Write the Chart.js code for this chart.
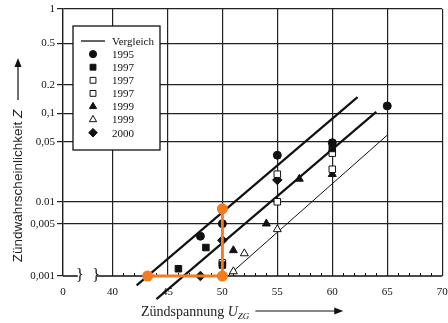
<!DOCTYPE html>
<html>
<head>
<meta charset="utf-8">
<script src="https://cdn.jsdelivr.net/npm/chart.js@4/dist/chart.umd.min.js"></script>
<style>
  html, body { margin: 0; padding: 0; background: #fff; }
</style>
</head>
<body>
<canvas id="grafico" width="448" height="323"></canvas>
<script>
// Zündwahrscheinlichkeit Z über der Zündspannung U_ZG, Messreihen 1995 - 2000

// Teilung der Z-Achse (Wahrscheinlichkeitspapier, nicht rein logarithmisch)
const zTicks = [0.001, 0.005, 0.01, 0.05, 0.1, 0.2, 0.5, 1];
const zTickLabels = ['0,001', '0,005', '0.01', '0,05', '0,1', '0.2', '0.5', '1'];
const zTickPos = [0, 0.196, 0.278, 0.502, 0.609, 0.715, 0.871, 1];

// U-Achse, unterbrochen zwischen 0 und 40
const uTicks = [40, 45, 50, 55, 60, 65, 70];
const uBreak = 4.5;

// Messpunkte
const u1995 = [48, 50, 55, 60, 65];
const z1995 = [0.0034, 0.005, 0.035, 0.049, 0.12];

const u1997a = [46, 48.5, 50, 60];
const z1997a = [0.00125, 0.0024, 0.0014, 0.042];

const u1997b = [50, 55, 60];
const z1997b = [0.0015, 0.021, 0.037];

const u1997c = [55, 60];
const z1997c = [0.01, 0.024];

const u1999a = [51, 54, 57, 60];
const z1999a = [0.0022, 0.005, 0.0185, 0.021];

const u1999b = [51, 52, 55];
const z1999b = [0.00115, 0.002, 0.0042];

const u2000 = [48, 50, 55];
const z2000 = [0.001, 0.003, 0.018];

// Vergleichsgeraden (Anfang, Ende)
const uVergleich1 = [42.2, 62.3];
const zVergleich1 = [0.00075, 0.149];
const uVergleich2 = [44, 64];
const zVergleich2 = [0.00049, 0.104];
const uVergleich3 = [50.5, 65];
const zVergleich3 = [0.001, 0.059];

// Ablesebeispiel (orange)
const uAblesung = [43.2, 50, 50];
const zAblesung = [0.001, 0.001, 0.008];

const schwarz = '#111';
const orange = '#f47b20';
const serif = 'Liberation Serif, Times New Roman, serif';
const sans = 'Liberation Sans, Arial, sans-serif';

// Z -> Lage auf der Achse (stueckweise logarithmisch zwischen den Teilstrichen)
function zToAxis(z) {
    const lz = Math.log10(z);
    let i = 0;
    while (i < zTicks.length - 2 && z > zTicks[i + 1]) i++;
    const l0 = Math.log10(zTicks[i]);
    const l1 = Math.log10(zTicks[i + 1]);
    return zTickPos[i] + (lz - l0) / (l1 - l0) * (zTickPos[i + 1] - zTickPos[i]);
}

function punkte(us, zs) {
    return us.map((u, i) => ({ x: u, y: zToAxis(zs[i]) }));
}

function messreihe(label, us, zs, stil, gefuellt, radius) {
    return {
        label: label,
        data: punkte(us, zs),
        showLine: false,
        pointStyle: stil,
        pointRadius: radius,
        pointBackgroundColor: gefuellt ? schwarz : '#fff',
        pointBorderColor: schwarz,
        pointBorderWidth: 1,
        inLegend: true,
        order: 2,
        clip: false
    };
}

function gerade(us, zs, breite, legende) {
    return {
        label: 'Vergleich',
        data: punkte(us, zs),
        showLine: true,
        borderColor: schwarz,
        borderWidth: breite,
        pointRadius: 0,
        inLegend: legende,
        order: 3,
        clip: false
    };
}

const datasets = [
    gerade(uVergleich1, zVergleich1, 2.2, true),
    messreihe('1995', u1995, z1995, 'circle', true, 4),
    messreihe('1997', u1997a, z1997a, 'rect', true, 4.6),
    messreihe('1997', u1997b, z1997b, 'rect', false, 4.6),
    messreihe('1997', u1997c, z1997c, 'rect', false, 4.6),
    messreihe('1999', u1999a, z1999a, 'triangle', true, 4.6),
    messreihe('1999', u1999b, z1999b, 'triangle', false, 4.6),
    messreihe('2000', u2000, z2000, 'rectRot', true, 4.8),
    gerade(uVergleich2, zVergleich2, 2.2, false),
    gerade(uVergleich3, zVergleich3, 1, false),
    {
        label: 'Ablesung',
        data: punkte(uAblesung, zAblesung),
        showLine: true,
        borderColor: orange,
        borderWidth: 2.8,
        pointRadius: 5.5,
        pointBackgroundColor: orange,
        pointBorderColor: orange,
        pointBorderWidth: 0,
        inLegend: false,
        order: 1,
        clip: false
    }
];

// untere Achse mit Bruchstelle, kleine Teilstriche
const achsenPlugin = {
    id: 'achse',
    beforeDatasetsDraw(chart) {
        const ctx = chart.ctx;
        const a = chart.chartArea;
        const xs = chart.scales.x;
        const x40 = xs.getPixelForValue(uTicks[0]);
        const b1 = a.left + 0.34 * (x40 - a.left);
        const b2 = a.left + 0.67 * (x40 - a.left);
        ctx.save();
        ctx.strokeStyle = schwarz;
        ctx.lineWidth = 1.3;
        ctx.beginPath();
        ctx.moveTo(a.left, a.bottom);
        ctx.lineTo(b1 - 2, a.bottom);
        ctx.moveTo(b2 + 1, a.bottom);
        ctx.lineTo(a.right, a.bottom);
        ctx.stroke();
        ctx.lineWidth = 1;
        ctx.beginPath();
        for (let u = uTicks[0] + 1; u < uTicks[uTicks.length - 1]; u++) {
            if (u % 5 === 0) continue;
            const px = Math.round(xs.getPixelForValue(u)) + 0.5;
            ctx.moveTo(px, a.bottom);
            ctx.lineTo(px, a.bottom - 3);
        }
        ctx.stroke();
        ctx.fillStyle = schwarz;
        ctx.font = '16px ' + serif;
        ctx.textAlign = 'center';
        ctx.textBaseline = 'middle';
        ctx.fillText('}', b1, a.bottom);
        ctx.fillText('}', b2, a.bottom);
        ctx.restore();
    }
};

// Legende im Diagramm, Achsentitel mit Pfeilen
const beschriftungPlugin = {
    id: 'beschriftung',
    afterDraw(chart) {
        const ctx = chart.ctx;
        const a = chart.chartArea;
        ctx.save();

        // Legende
        const lx = a.left + 10, ly = a.top + 17, lw = 87, lh = 124;
        ctx.fillStyle = '#fff';
        ctx.fillRect(lx, ly, lw, lh);
        ctx.strokeStyle = schwarz;
        ctx.lineWidth = 1.3;
        ctx.strokeRect(lx, ly, lw, lh);
        const eintraege = chart.data.datasets.filter(d => d.inLegend);
        ctx.font = '11px ' + serif;
        ctx.textBaseline = 'middle';
        ctx.textAlign = 'left';
        eintraege.forEach((d, i) => {
            const y = ly + 15 + i * 13.1;
            const mx = lx + 20;
            if (d.showLine) {
                ctx.strokeStyle = schwarz;
                ctx.lineWidth = 1.3;
                ctx.beginPath();
                ctx.moveTo(mx - 12, y);
                ctx.lineTo(mx + 12, y);
                ctx.stroke();
            } else {
                ctx.fillStyle = d.pointBackgroundColor;
                ctx.strokeStyle = d.pointBorderColor;
                ctx.lineWidth = d.pointBorderWidth;
                Chart.helpers.drawPoint(ctx, {
                    pointStyle: d.pointStyle,
                    radius: d.pointRadius * 0.9,
                    rotation: 0,
                    borderWidth: d.pointBorderWidth
                }, mx, y);
            }
            ctx.fillStyle = schwarz;
            ctx.fillText(d.label, lx + 39, y + 1);
        });

        // y-Titel
        const yx = 18, yc = 186;
        ctx.translate(yx, yc);
        ctx.rotate(-Math.PI / 2);
        ctx.fillStyle = '#222';
        const t1 = 'Zündwahrscheinlichkeit ';
        ctx.font = '13.5px ' + sans;
        const w1 = ctx.measureText(t1).width;
        ctx.font = 'italic 13.5px ' + sans;
        const w2 = ctx.measureText('Z').width;
        let sx = -(w1 + w2) / 2;
        ctx.textAlign = 'left';
        ctx.textBaseline = 'middle';
        ctx.font = '13.5px ' + sans;
        ctx.fillText(t1, sx, 0);
        ctx.font = 'italic 13.5px ' + sans;
        ctx.fillText('Z', sx + w1, 0);
        ctx.setTransform(1, 0, 0, 1, 0, 0);

        // Pfeil nach oben
        pfeil(ctx, yx, 100, yx, 58);

        // x-Titel
        const xs = chart.scales.x;
        const tx = xs.getPixelForValue(42.6);
        const ty = 316;
        ctx.fillStyle = '#222';
        ctx.textBaseline = 'alphabetic';
        ctx.font = '14px ' + serif;
        const s1 = 'Zündspannung ';
        ctx.fillText(s1, tx, ty);
        let px = tx + ctx.measureText(s1).width;
        ctx.font = 'italic 14px ' + serif;
        ctx.fillText('U', px, ty);
        px += ctx.measureText('U').width;
        ctx.font = 'italic 9px ' + serif;
        ctx.fillText('ZG', px, ty + 3);

        pfeil(ctx, xs.getPixelForValue(53), 311, xs.getPixelForValue(61), 311);
        ctx.restore();
    }
};

function pfeil(ctx, x0, y0, x1, y1) {
    const ang = Math.atan2(y1 - y0, x1 - x0);
    ctx.strokeStyle = schwarz;
    ctx.fillStyle = schwarz;
    ctx.lineWidth = 1.2;
    ctx.beginPath();
    ctx.moveTo(x0, y0);
    ctx.lineTo(x1 - 6 * Math.cos(ang), y1 - 6 * Math.sin(ang));
    ctx.stroke();
    ctx.beginPath();
    ctx.moveTo(x1, y1);
    ctx.lineTo(x1 - 9 * Math.cos(ang) + 3.5 * Math.sin(ang), y1 - 9 * Math.sin(ang) - 3.5 * Math.cos(ang));
    ctx.lineTo(x1 - 9 * Math.cos(ang) - 3.5 * Math.sin(ang), y1 - 9 * Math.sin(ang) + 3.5 * Math.cos(ang));
    ctx.closePath();
    ctx.fill();
}

const ctx = document.getElementById('grafico');

let grafico = new Chart(ctx, {
    type: 'scatter',
    data: { datasets: datasets },
    options: {
        responsive: false,
        animation: false,
        events: [],
        layout: { padding: { top: 9, right: 3, left: 0, bottom: 0 } },
        plugins: {
            legend: { display: false },
            tooltip: { enabled: false }
        },
        scales: {
            x: {
                type: 'linear',
                min: uTicks[0] - uBreak,
                max: uTicks[uTicks.length - 1],
                afterBuildTicks: (s) => {
                    s.ticks = [s.min].concat(uTicks).map(v => ({ value: v }));
                },
                afterFit: (s) => {
                    s.height = 47;
                    s.paddingLeft = 0;
                    s.paddingRight = 0;
                },
                ticks: {
                    font: { family: serif, size: 11 },
                    color: schwarz,
                    padding: 10,
                    maxRotation: 0,
                    autoSkip: false,
                    callback: (v) => v < uTicks[0] ? '0' : String(v)
                },
                grid: { color: '#222', lineWidth: 1.2, drawTicks: false },
                border: { display: false }
            },
            y: {
                type: 'linear',
                min: 0,
                max: 1,
                afterBuildTicks: (s) => {
                    s.ticks = zTickPos.map(v => ({ value: v }));
                },
                afterFit: (s) => {
                    s.width = 63;
                    s.paddingTop = 0;
                    s.paddingBottom = 0;
                },
                ticks: {
                    font: { family: serif, size: 11 },
                    color: schwarz,
                    padding: 2,
                    autoSkip: false,
                    callback: (v, i) => zTickLabels[i]
                },
                grid: {
                    color: (c) => c.index === 0 ? 'rgba(0,0,0,0)' : '#222',
                    tickColor: '#222',
                    lineWidth: 1.2,
                    drawTicks: true,
                    tickLength: 6
                },
                border: { display: true, color: '#222', width: 1.3 }
            }
        }
    },
    plugins: [achsenPlugin, beschriftungPlugin]
});
</script>
</body>
</html>
